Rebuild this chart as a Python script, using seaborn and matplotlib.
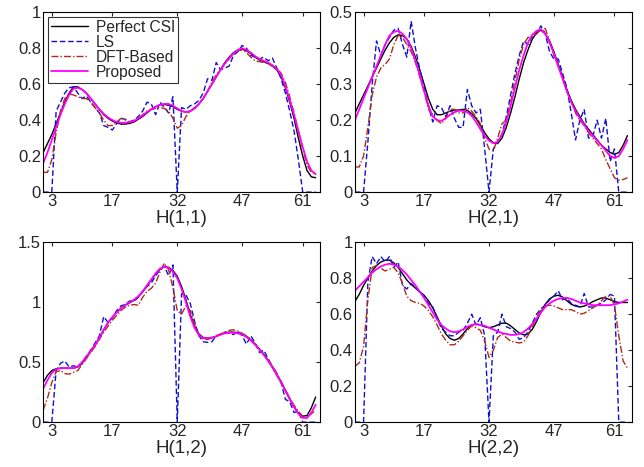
"""
Channel estimates per subcarrier for the four 2x2 MIMO links.
"""

import numpy as np
import matplotlib
matplotlib.use("Agg")
import matplotlib.pyplot as plt
import seaborn as sns
from matplotlib.ticker import FormatStrFormatter

sns.set_style("white")
plt.rcParams['font.family'] = ['Liberation Sans', 'DejaVu Sans']

subcarrier = np.arange(1, 65)
xticks = [3, 17, 32, 47, 61]
legend_labels = ['Perfect CSI', 'LS', 'DFT-Based', 'Proposed']

# H(1,1)
h11_perfect = [0.22, 0.27, 0.32, 0.38, 0.44, 0.50, 0.55, 0.585, 0.585, 0.57,
               0.55, 0.52, 0.49, 0.46, 0.43, 0.41, 0.395, 0.385, 0.378, 0.378,
               0.382, 0.39, 0.405, 0.42, 0.44, 0.46, 0.475, 0.485, 0.487, 0.483,
               0.475, 0.46, 0.45, 0.445, 0.45, 0.465, 0.49, 0.52, 0.56, 0.60,
               0.64, 0.68, 0.72, 0.75, 0.775, 0.79, 0.795, 0.785, 0.77, 0.75,
               0.735, 0.725, 0.715, 0.70, 0.68, 0.64, 0.58, 0.50, 0.41, 0.30,
               0.20, 0.12, 0.085, 0.08]
h11_ls = [0.0, 0.0, 0.0, 0.45, 0.50, 0.55, 0.58, 0.585, 0.55, 0.52,
          0.535, 0.50, 0.47, 0.44, 0.37, 0.36, 0.345, 0.38, 0.41, 0.405,
          0.39, 0.40, 0.42, 0.45, 0.50, 0.49, 0.43, 0.50, 0.47, 0.44,
          0.53, 0.0, 0.47, 0.46, 0.48, 0.49, 0.51, 0.55, 0.63, 0.62,
          0.72, 0.68, 0.69, 0.70, 0.76, 0.78, 0.815, 0.80, 0.76, 0.75,
          0.74, 0.75, 0.73, 0.745, 0.69, 0.63, 0.55, 0.45, 0.34, 0.18,
          0.0, 0.0, 0.0, 0.0]
h11_dft = [0.11, 0.11, 0.18, 0.33, 0.45, 0.52, 0.545, 0.54, 0.53, 0.52,
           0.52, 0.50, 0.47, 0.44, 0.40, 0.37, 0.37, 0.39, 0.41, 0.40,
           0.39, 0.40, 0.41, 0.43, 0.45, 0.46, 0.465, 0.47, 0.465, 0.45,
           0.41, 0.355, 0.37, 0.42, 0.45, 0.47, 0.49, 0.52, 0.56, 0.61,
           0.65, 0.68, 0.71, 0.74, 0.77, 0.785, 0.79, 0.775, 0.75, 0.73,
           0.725, 0.72, 0.715, 0.70, 0.69, 0.66, 0.61, 0.53, 0.44, 0.34,
           0.24, 0.15, 0.11, 0.10]
h11_proposed = [0.16, 0.22, 0.29, 0.36, 0.43, 0.49, 0.54, 0.575, 0.58, 0.57,
                0.55, 0.52, 0.49, 0.46, 0.435, 0.415, 0.40, 0.39, 0.385, 0.385,
                0.39, 0.395, 0.41, 0.425, 0.445, 0.46, 0.475, 0.485, 0.49, 0.49,
                0.48, 0.465, 0.45, 0.445, 0.45, 0.465, 0.49, 0.52, 0.56, 0.60,
                0.64, 0.68, 0.715, 0.745, 0.77, 0.79, 0.80, 0.79, 0.775, 0.755,
                0.74, 0.73, 0.72, 0.705, 0.685, 0.65, 0.59, 0.51, 0.43, 0.34,
                0.25, 0.17, 0.12, 0.10]

# H(2,1)
h21_perfect = [0.22, 0.245, 0.27, 0.295, 0.32, 0.345, 0.37, 0.395, 0.415, 0.43,
               0.437, 0.435, 0.425, 0.405, 0.375, 0.34, 0.30, 0.26, 0.23, 0.215,
               0.215, 0.22, 0.225, 0.228, 0.228, 0.23, 0.227, 0.218, 0.205, 0.185,
               0.165, 0.148, 0.137, 0.135, 0.15, 0.18, 0.22, 0.265, 0.315, 0.36,
               0.395, 0.425, 0.443, 0.45, 0.44, 0.42, 0.39, 0.355, 0.32, 0.285,
               0.255, 0.23, 0.21, 0.19, 0.175, 0.16, 0.145, 0.13, 0.12, 0.11,
               0.105, 0.11, 0.13, 0.157]
h21_ls = [0.0, 0.0, 0.0, 0.14, 0.30, 0.42, 0.38, 0.41, 0.43, 0.45,
          0.455, 0.41, 0.375, 0.475, 0.40, 0.34, 0.29, 0.24, 0.195, 0.24,
          0.235, 0.21, 0.24, 0.205, 0.18, 0.18, 0.285, 0.24, 0.22, 0.23,
          0.12, 0.0, 0.12, 0.14, 0.16, 0.21, 0.27, 0.33, 0.38, 0.42,
          0.41, 0.435, 0.44, 0.462, 0.44, 0.39, 0.37, 0.37, 0.33, 0.29,
          0.22, 0.145, 0.20, 0.23, 0.15, 0.155, 0.20, 0.15, 0.205, 0.085,
          0.12, 0.0, 0.0, 0.0]
h21_dft = [0.07, 0.07, 0.10, 0.18, 0.27, 0.32, 0.345, 0.355, 0.37, 0.41,
           0.435, 0.43, 0.41, 0.39, 0.36, 0.32, 0.28, 0.23, 0.215, 0.20,
           0.19, 0.205, 0.23, 0.23, 0.22, 0.22, 0.235, 0.225, 0.21, 0.19,
           0.15, 0.12, 0.115, 0.15, 0.19, 0.20, 0.25, 0.31, 0.37, 0.41,
           0.43, 0.43, 0.44, 0.452, 0.455, 0.42, 0.38, 0.35, 0.32, 0.28,
           0.25, 0.22, 0.20, 0.185, 0.165, 0.15, 0.135, 0.12, 0.09, 0.065,
           0.04, 0.033, 0.035, 0.04]
h21_proposed = [0.20, 0.23, 0.26, 0.29, 0.32, 0.35, 0.38, 0.41, 0.435, 0.445,
                0.448, 0.44, 0.425, 0.40, 0.365, 0.325, 0.28, 0.24, 0.21, 0.20,
                0.198, 0.205, 0.215, 0.222, 0.226, 0.226, 0.222, 0.212, 0.195, 0.175,
                0.157, 0.143, 0.136, 0.14, 0.16, 0.195, 0.24, 0.29, 0.34, 0.38,
                0.415, 0.437, 0.448, 0.452, 0.44, 0.415, 0.385, 0.35, 0.315, 0.28,
                0.25, 0.225, 0.205, 0.187, 0.17, 0.157, 0.143, 0.13, 0.115, 0.10,
                0.095, 0.10, 0.12, 0.145]

# H(1,2)
h12_perfect = [0.33, 0.39, 0.43, 0.445, 0.45, 0.45, 0.45, 0.45, 0.46, 0.49,
               0.54, 0.59, 0.64, 0.70, 0.77, 0.83, 0.875, 0.915, 0.95, 0.975,
               0.995, 1.015, 1.045, 1.085, 1.135, 1.185, 1.235, 1.275, 1.295, 1.29,
               1.265, 1.215, 1.13, 1.02, 0.90, 0.80, 0.735, 0.705, 0.70, 0.705,
               0.715, 0.73, 0.745, 0.75, 0.75, 0.745, 0.735, 0.715, 0.685, 0.65,
               0.61, 0.565, 0.515, 0.46, 0.40, 0.335, 0.265, 0.195, 0.13, 0.075,
               0.05, 0.055, 0.12, 0.21]
h12_ls = [0.0, 0.0, 0.0, 0.43, 0.49, 0.51, 0.46, 0.47, 0.46, 0.50,
          0.55, 0.60, 0.66, 0.72, 0.88, 0.83, 0.87, 0.93, 0.97, 0.98,
          1.01, 1.01, 1.04, 1.09, 1.13, 1.16, 1.22, 1.27, 1.30, 1.22,
          1.31, 0.0, 1.07, 1.06, 0.99, 0.84, 0.72, 0.67, 0.665, 0.67,
          0.72, 0.73, 0.75, 0.74, 0.73, 0.76, 0.72, 0.65, 0.72, 0.66,
          0.58, 0.60, 0.53, 0.46, 0.39, 0.33, 0.19, 0.17, 0.08, 0.09,
          0.0, 0.0, 0.0, 0.0]
h12_dft = [0.10, 0.20, 0.33, 0.42, 0.43, 0.405, 0.40, 0.415, 0.43, 0.48,
           0.53, 0.58, 0.63, 0.69, 0.75, 0.80, 0.85, 0.89, 0.93, 0.96,
           0.975, 0.98, 0.975, 1.04, 1.09, 1.115, 1.16, 1.25, 1.325, 1.27,
           1.12, 0.93, 0.90, 0.97, 0.93, 0.82, 0.73, 0.69, 0.69, 0.70,
           0.72, 0.735, 0.75, 0.765, 0.77, 0.76, 0.74, 0.72, 0.69, 0.65,
           0.61, 0.565, 0.52, 0.47, 0.41, 0.34, 0.27, 0.20, 0.14, 0.09,
           0.05, 0.04, 0.07, 0.10]
h12_proposed = [0.28, 0.35, 0.41, 0.44, 0.45, 0.45, 0.45, 0.45, 0.465, 0.50,
                0.545, 0.595, 0.645, 0.705, 0.77, 0.83, 0.875, 0.915, 0.95, 0.975,
                1.0, 1.02, 1.05, 1.09, 1.14, 1.19, 1.24, 1.28, 1.295, 1.285,
                1.255, 1.20, 1.11, 1.0, 0.88, 0.785, 0.725, 0.70, 0.70, 0.705,
                0.715, 0.73, 0.74, 0.745, 0.745, 0.74, 0.73, 0.71, 0.68, 0.645,
                0.605, 0.56, 0.51, 0.455, 0.395, 0.33, 0.26, 0.19, 0.125, 0.07,
                0.035, 0.035, 0.08, 0.145]

# H(2,2)
h22_perfect = [0.67, 0.71, 0.76, 0.80, 0.84, 0.87, 0.89, 0.90, 0.90, 0.885,
               0.86, 0.825, 0.79, 0.765, 0.745, 0.725, 0.705, 0.675, 0.635, 0.585,
               0.535, 0.49, 0.465, 0.455, 0.465, 0.49, 0.52, 0.54, 0.545, 0.54,
               0.53, 0.525, 0.53, 0.54, 0.55, 0.55, 0.535, 0.515, 0.495, 0.485,
               0.49, 0.515, 0.56, 0.61, 0.655, 0.685, 0.70, 0.705, 0.695, 0.675,
               0.655, 0.645, 0.64, 0.645, 0.655, 0.67, 0.68, 0.69, 0.69, 0.68,
               0.67, 0.665, 0.665, 0.665]
h22_ls = [0.0, 0.0, 0.0, 0.78, 0.92, 0.88, 0.92, 0.89, 0.92, 0.86,
          0.89, 0.76, 0.74, 0.77, 0.75, 0.72, 0.70, 0.66, 0.64, 0.58,
          0.52, 0.50, 0.48, 0.48, 0.50, 0.51, 0.55, 0.60, 0.54, 0.58,
          0.48, 0.0, 0.48, 0.50, 0.60, 0.53, 0.52, 0.50, 0.46, 0.47,
          0.50, 0.55, 0.60, 0.63, 0.65, 0.68, 0.70, 0.73, 0.68, 0.69,
          0.66, 0.65, 0.64, 0.715, 0.64, 0.64, 0.65, 0.66, 0.68, 0.71,
          0.70, 0.0, 0.0, 0.0]
h22_dft = [0.31, 0.33, 0.42, 0.68, 0.86, 0.87, 0.855, 0.84, 0.85, 0.86,
           0.83, 0.77, 0.70, 0.675, 0.665, 0.66, 0.645, 0.62, 0.585, 0.54,
           0.49, 0.455, 0.43, 0.43, 0.45, 0.48, 0.51, 0.535, 0.525, 0.51,
           0.45, 0.36, 0.40, 0.47, 0.49, 0.47, 0.45, 0.445, 0.44, 0.445,
           0.48, 0.53, 0.58, 0.625, 0.645, 0.65, 0.645, 0.635, 0.625, 0.625,
           0.625, 0.615, 0.60, 0.605, 0.62, 0.635, 0.65, 0.675, 0.70, 0.70,
           0.65, 0.48, 0.34, 0.30]
h22_proposed = [0.73, 0.755, 0.78, 0.805, 0.83, 0.85, 0.865, 0.875, 0.88, 0.875,
                0.865, 0.845, 0.82, 0.79, 0.76, 0.725, 0.69, 0.65, 0.61, 0.57,
                0.54, 0.52, 0.505, 0.50, 0.505, 0.515, 0.53, 0.54, 0.545, 0.54,
                0.535, 0.525, 0.515, 0.505, 0.495, 0.49, 0.485, 0.485, 0.49, 0.50,
                0.52, 0.545, 0.575, 0.61, 0.64, 0.66, 0.675, 0.685, 0.69, 0.69,
                0.685, 0.675, 0.665, 0.66, 0.655, 0.65, 0.65, 0.65, 0.65, 0.65,
                0.655, 0.66, 0.67, 0.68]

panels = [
    ('H(1,1)', [h11_perfect, h11_ls, h11_dft, h11_proposed], [0, 0.2, 0.4, 0.6, 0.8, 1.0]),
    ('H(2,1)', [h21_perfect, h21_ls, h21_dft, h21_proposed], [0, 0.1, 0.2, 0.3, 0.4, 0.5]),
    ('H(1,2)', [h12_perfect, h12_ls, h12_dft, h12_proposed], [0, 0.5, 1.0, 1.5]),
    ('H(2,2)', [h22_perfect, h22_ls, h22_dft, h22_proposed], [0, 0.2, 0.4, 0.6, 0.8, 1.0]),
]

line_styles = [
    dict(color='black', linestyle='-', linewidth=1.0),
    dict(color='#1010d0', linestyle=(0, (4, 2)), linewidth=1.0),
    dict(color='#b02a1a', linestyle=(0, (5, 1.5, 1, 1.5)), linewidth=1.0),
    dict(color='#ff00ff', linestyle='-', linewidth=1.3),
]

fig, axes = plt.subplots(2, 2, figsize=(6.44, 4.67), dpi=100)
fig.subplots_adjust(left=0.067, right=0.981, bottom=0.096, top=0.974,
                    wspace=0.126, hspace=0.278)

for ax, (title, series, yticks) in zip(axes.flat, panels):
    for vals, label, style in zip(series, legend_labels, line_styles):
        sns.lineplot(x=subcarrier, y=vals, ax=ax, label=label, sort=False,
                     errorbar=None, legend=False, **style)
    ax.set_xlim(1, 65)
    ax.set_ylim(yticks[0], yticks[-1])
    ax.set_xticks(xticks)
    ax.set_yticks(yticks)
    ax.yaxis.set_major_formatter(FormatStrFormatter('%g'))
    ax.tick_params(direction='in', top=True, right=True, labelsize=12,
                   length=3, width=0.8, pad=1.5)
    ax.set_xlabel(title, fontsize=13.5, labelpad=0.5)
    ax.set_ylabel('')
    for spine in ax.spines.values():
        spine.set_color('black')
        spine.set_linewidth(0.8)

leg = axes[0, 0].legend(loc='upper left', fontsize=11.2, frameon=True, fancybox=False,
                        borderpad=0.2, labelspacing=0.0, handlelength=2.4,
                        handletextpad=0.5, borderaxespad=0.3)
leg.get_frame().set_edgecolor('black')
leg.get_frame().set_linewidth(0.8)

plt.savefig("out.png", dpi=100)
plt.close()
